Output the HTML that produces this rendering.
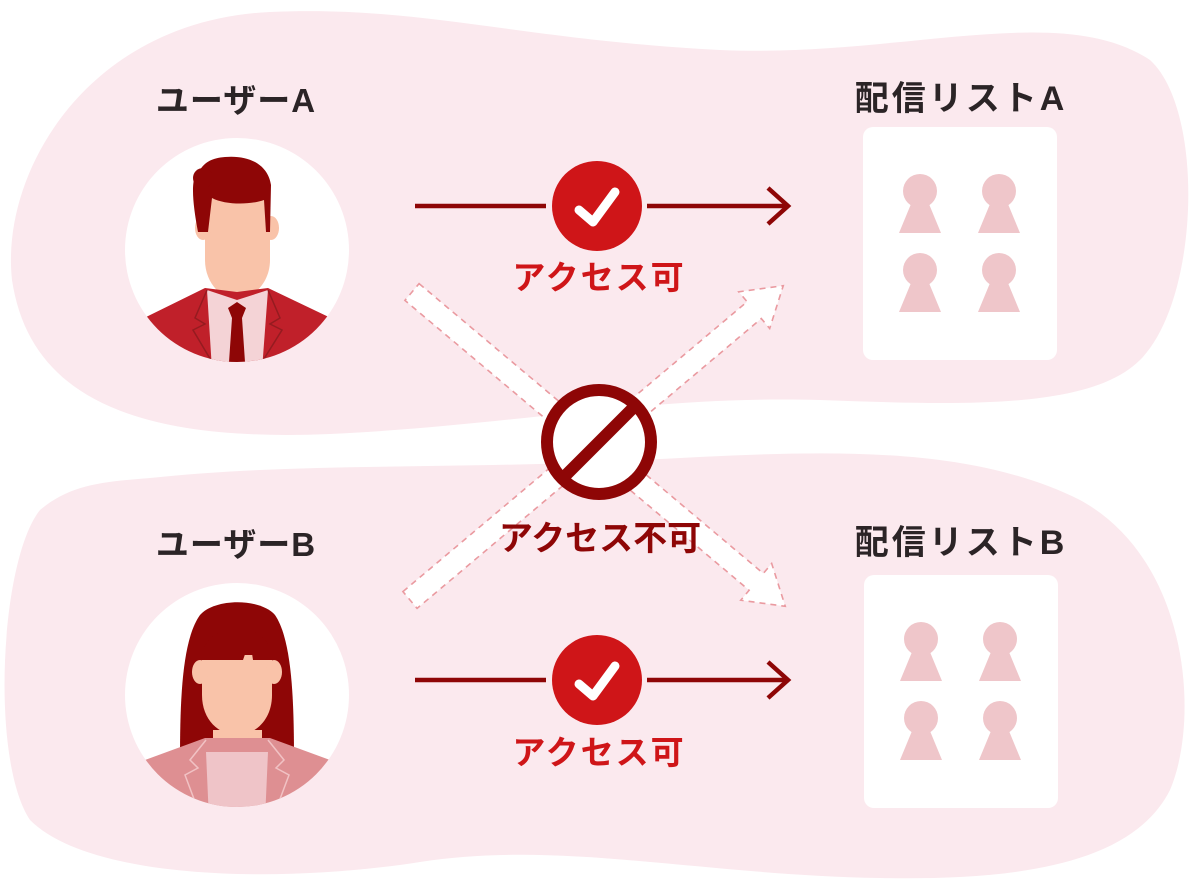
<!DOCTYPE html>
<html><head><meta charset="utf-8"><style>
html,body{margin:0;padding:0;background:#fff;}
body{width:1200px;height:886px;overflow:hidden;position:relative;font-family:"Liberation Sans","Noto Sans CJK JP",sans-serif;}
svg{position:absolute;left:0;top:0;}
</style></head><body>
<svg width="1200" height="886" viewBox="0 0 1200 886" xmlns="http://www.w3.org/2000/svg">
<path d="M270,12 C420,5 520,40 720,50 C900,58 1060,0 1150,60 C1205,110 1200,300 1140,360 C1090,410 960,405 820,400 C650,395 520,425 330,434 C140,442 30,400 12,280 C0,170 90,20 270,12 Z" fill="#fbe9ee"/>
<path d="M150,478 C300,462 450,470 640,460 C800,452 960,440 1080,500 C1190,560 1200,720 1170,790 C1130,870 1000,880 880,878 C700,875 560,840 420,862 C280,884 90,880 30,820 C-10,760 0,560 40,510 C70,485 100,482 150,478 Z" fill="#fbe9ee"/>
<circle cx="237" cy="250" r="112" fill="#fff"/>
<circle cx="237" cy="695" r="112" fill="#fff"/>
<clipPath id="c1"><circle cx="237" cy="250" r="112"/></clipPath>
<g clip-path="url(#c1)">
<path d="M213,290 L213,310 L260,310 L260,290 Z" fill="#f9c3a9"/>
<path d="M205,205 C205,180 270,180 270,205 L270,260 C270,285 250,300 237,300 C224,300 205,285 205,260 Z" fill="#f9c3a9"/>
<ellipse cx="203" cy="228" rx="8" ry="12" fill="#f9c3a9"/>
<ellipse cx="271" cy="228" rx="8" ry="12" fill="#f9c3a9"/>
<path d="M198,232 C192,200 190,175 200,170 C205,162 212,158 225,157 C250,155 268,165 271,185 L270,232 L266,232 L264,200 C250,205 225,205 212,198 L208,232 Z" fill="#8e0606"/>
<circle cx="203" cy="178" r="10" fill="#8e0606"/>
<path d="M140,320 L205,288 L237,292 L268,288 L335,320 L335,370 L140,370 Z" fill="#c0202a"/>
<path d="M207,290 L237,300 L268,290 L262,370 L212,370 Z" fill="#f4d3d6"/>
<path d="M228,308 L237,302 L246,308 L242,318 L245,362 L229,362 L232,318 Z" fill="#8e0606"/>
<path d="M207,290 L195,318 L205,324 L193,330 L212,362" fill="none" stroke="#951b20" stroke-width="1.5"/>
<path d="M268,290 L280,318 L270,324 L282,330 L262,362" fill="none" stroke="#951b20" stroke-width="1.5"/>
</g>
<clipPath id="c2"><circle cx="237" cy="695" r="112"/></clipPath>
<g clip-path="url(#c2)">
<path d="M180,760 C180,700 182,640 200,615 C215,598 260,598 275,615 C292,640 294,700 294,760 Z" fill="#8e0606"/>
<path d="M213,730 L213,760 L262,760 L262,730 Z" fill="#f9c3a9"/>
<path d="M202,655 L272,655 L272,695 C272,720 255,735 237,735 C219,735 202,720 202,695 Z" fill="#f9c3a9"/>
<ellipse cx="200" cy="672" rx="8" ry="12" fill="#f9c3a9"/>
<ellipse cx="274" cy="672" rx="8" ry="12" fill="#f9c3a9"/>
<path d="M200,660 C205,620 265,615 275,660 L253,660 L250,640 L243,660 Z" fill="#8e0606"/>
<path d="M145,760 L205,738 L270,738 L330,760 L330,820 L145,820 Z" fill="#de8f92"/>
<path d="M206,752 L268,752 L265,820 L209,820 Z" fill="#efc4c8"/>
<path d="M206,740 L190,760 L198,768 L185,775 L200,815" fill="none" stroke="#f1c2c4" stroke-width="1.5"/>
<path d="M268,740 L284,760 L276,768 L289,775 L274,815" fill="none" stroke="#f1c2c4" stroke-width="1.5"/>
</g>
<rect x="863" y="127" width="194" height="233" rx="10" fill="#fff"/>
<rect x="864" y="575" width="194" height="233" rx="10" fill="#fff"/>
<g fill="#efc6ca">
<g id="pp"><circle cx="920" cy="191" r="17"/><path d="M911,204 L929,204 L941,233 L899,233 Z"/></g>
<use href="#pp" x="79" y="0"/><use href="#pp" x="0" y="79"/><use href="#pp" x="79" y="79"/>
<use href="#pp" x="1" y="448"/><use href="#pp" x="80" y="448"/><use href="#pp" x="1" y="527"/><use href="#pp" x="80" y="527"/>
</g>
<g fill="#fff" stroke="#ea9aa0" stroke-width="1.6" stroke-dasharray="6 5">
<path transform="translate(412,292) rotate(40.1)" d="M0,-11 L450,-11 L450,-24 L488,0 L450,24 L450,11 L0,11 Z"/>
<path transform="translate(410,600) rotate(-40.1)" d="M0,-11 L450,-11 L450,-24 L488,0 L450,24 L450,11 L0,11 Z"/>
</g>
<g stroke="#8e0606" stroke-width="4.5" fill="none">
<line x1="415" y1="206" x2="546" y2="206"/><line x1="647" y1="206" x2="786" y2="206"/>
<polyline points="768,188 788,206 768,224"/>
<line x1="415" y1="680" x2="546" y2="680"/><line x1="647" y1="680" x2="786" y2="680"/>
<polyline points="768,662 788,680 768,698"/>
</g>
<circle cx="597" cy="206" r="45" fill="#cf1518"/>
<polyline points="579,210 593,222 615,192" fill="none" stroke="#fff" stroke-width="9" stroke-linecap="round" stroke-linejoin="round"/>
<circle cx="597" cy="680" r="45" fill="#cf1518"/>
<polyline points="579,684 593,696 615,666" fill="none" stroke="#fff" stroke-width="9" stroke-linecap="round" stroke-linejoin="round"/>
<circle cx="599" cy="442" r="52" fill="#fff" stroke="#8e0606" stroke-width="12"/>
<line x1="562" y1="479" x2="636" y2="405" stroke="#8e0606" stroke-width="12"/>
<g font-family="'Liberation Sans','Noto Sans CJK JP',sans-serif" font-weight="bold">
<text x="236" y="112" font-size="33" letter-spacing="1" fill="#2b2426" text-anchor="middle">ユーザーA</text>
<text x="236" y="556" font-size="33" letter-spacing="1" fill="#2b2426" text-anchor="middle">ユーザーB</text>
<text x="961" y="110" font-size="34" letter-spacing="3" fill="#2b2426" text-anchor="middle">配信リストA</text>
<text x="961" y="554" font-size="34" letter-spacing="3" fill="#2b2426" text-anchor="middle">配信リストB</text>
<text x="599" y="289" font-size="33" letter-spacing="2" fill="#cf1518" text-anchor="middle">アクセス可</text>
<text x="599" y="764" font-size="33" letter-spacing="2" fill="#cf1518" text-anchor="middle">アクセス可</text>
<text x="600" y="550" font-size="34" fill="#8e0606" text-anchor="middle">アクセス不可</text>
</g>
</svg>
</body></html>
